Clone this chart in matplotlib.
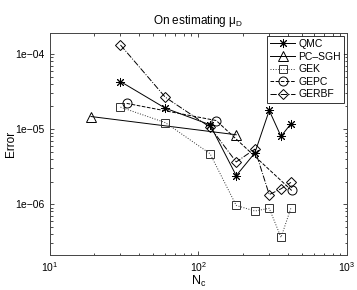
import matplotlib
matplotlib.use("Agg")
import matplotlib.pyplot as plt
from matplotlib.ticker import FixedLocator, FixedFormatter, LogLocator, NullFormatter

plt.rcParams["font.family"] = ["Liberation Sans", "DejaVu Sans"]
plt.rcParams["mathtext.fontset"] = "custom"
plt.rcParams["mathtext.rm"] = "Liberation Sans"
plt.rcParams["mathtext.it"] = "Liberation Sans"

# data
qmc_n = [30, 60, 120, 180, 240, 300, 360, 420]
qmc_err = [4.3e-5, 1.9e-5, 1.14e-5, 2.4e-6, 4.8e-6, 1.77e-5, 8.0e-6, 1.18e-5]

pcsgh_n = [19, 180]
pcsgh_err = [1.47e-5, 8.4e-6]

gek_n = [30, 60, 120, 180, 240, 300, 360, 420]
gek_err = [1.96e-5, 1.22e-5, 4.7e-6, 9.6e-7, 8.1e-7, 8.8e-7, 3.6e-7, 8.9e-7]

gepc_n = [33, 132, 425]
gepc_err = [2.2e-5, 1.3e-5, 1.52e-6]

gerbf_n = [30, 60, 120, 180, 240, 300, 360, 420]
gerbf_err = [1.32e-4, 2.66e-5, 1.06e-5, 3.65e-6, 5.4e-6, 1.34e-6, 1.6e-6, 1.95e-6]

fig = plt.figure(figsize=(3.57, 2.90), dpi=100)
ax = fig.add_axes([0.1387, 0.1207, 0.8333, 0.7663])

common = dict(color="black", linewidth=0.7, markersize=6.5,
              markerfacecolor="none", markeredgewidth=0.7)
ax.plot(qmc_n, qmc_err, linestyle="-", marker=(8, 2, 0), label="QMC", **common)
ax.plot(pcsgh_n, pcsgh_err, linestyle="-", marker="^", label="PC\u2013SGH", **common)
ax.plot(gek_n, gek_err, linestyle=":", marker="s", label="GEK",
        **{**common, "color": "#333333", "markersize": 5.5})
ax.plot(gepc_n, gepc_err, linestyle="--", marker="o", label="GEPC", **common)
ax.plot(gerbf_n, gerbf_err, linestyle="-.", marker="D", label="GERBF",
        **{**common, "markersize": 5.5})

ax.set_xscale("log")
ax.set_yscale("log")
ax.set_xlim(10, 1000)
ax.set_ylim(2.1e-7, 1.92e-4)

ax.xaxis.set_major_locator(FixedLocator([10, 100, 1000]))
ax.xaxis.set_major_formatter(FixedFormatter([r"$10^1$", r"$10^2$", r"$10^3$"]))
ax.yaxis.set_major_locator(FixedLocator([1e-6, 1e-5, 1e-4]))
ax.yaxis.set_major_formatter(FixedFormatter(["1e\u221206", "1e\u221205", "1e\u221204"]))
ax.xaxis.set_minor_locator(LogLocator(base=10, subs=range(2, 10)))
ax.yaxis.set_minor_locator(LogLocator(base=10, subs=range(2, 10)))
ax.xaxis.set_minor_formatter(NullFormatter())
ax.yaxis.set_minor_formatter(NullFormatter())

ax.tick_params(which="both", direction="in", top=True, right=True,
               labelsize=7.5, width=0.5, colors="black")
ax.tick_params(which="major", length=3)
ax.tick_params(which="minor", length=1.8)
for s in ax.spines.values():
    s.set_linewidth(0.7)
    s.set_color("#444444")

ax.set_title(r"On estimating $\mu_D$", fontsize=8.5, pad=6)
ax.set_xlabel(r"$N_c$", fontsize=9, labelpad=0)
ax.set_ylabel("Error", fontsize=8.5)
ax.yaxis.set_label_coords(-0.11, 0.5)

leg = ax.legend(loc="upper right", fontsize=7.5, frameon=True, fancybox=False,
                edgecolor="black", borderaxespad=0.3, handlelength=2.4,
                labelspacing=0.25, borderpad=0.3, handletextpad=0.3)
leg.get_frame().set_linewidth(0.7)

fig.savefig("out.png", dpi=100)
